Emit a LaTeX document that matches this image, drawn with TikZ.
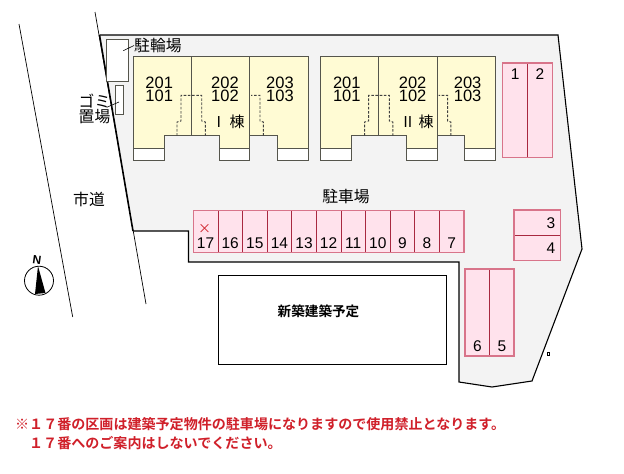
\documentclass[tikz,border=0pt]{standalone}
\usepackage{fontspec}
\setmainfont{Liberation Sans}
\newfontfamily\cjk{Noto Sans CJK JP}
\newfontfamily\cjkb{Noto Sans CJK JP Bold}
\definecolor{sitefill}{HTML}{F3F3F3}
\definecolor{yel}{HTML}{FFFBD4}
\definecolor{pk}{HTML}{FFE2EC}
\definecolor{pkout}{HTML}{D8748A}
\definecolor{pkin}{HTML}{A82840}
\definecolor{bline}{HTML}{55554C}
\definecolor{note}{HTML}{D0202A}
\tikzset{
  x=1pt,y=-1pt,
  lbl/.style={inner sep=0pt,text=black},
  jp/.style={lbl,font=\cjk\fontsize{15.8}{15}\selectfont},
  room/.style={lbl,font=\fontsize{16.5}{13.4}\selectfont,align=center},
  stallno/.style={lbl,font=\fontsize{15.5}{15}\selectfont},
  stall/.style={draw=pkin,fill=pk,line width=.7pt},
  stallbox/.style={draw=pkout,line width=1.2pt},
  bld/.style={draw=bline,line width=1pt},
  door/.style={draw=black!75,line width=.9pt,dash pattern=on 2.6pt off 1.6pt},
  bound/.style={draw=black,line width=1.1pt},
  thin road/.style={draw=black,line width=.7pt},
  notetext/.style={inner sep=0pt,anchor=west,text=note,font=\cjkb\fontsize{14.05}{14}\selectfont},
}
\newcommand{\building}[2]{%
 \begin{scope}[xshift=#1pt]
  \fill[yel] (133,56.7)--(308,56.7)--(308,148)--(277,148)--(277,135.7)--(249.5,135.7)--(249.5,148)--(219,148)--(219,135.7)--(164,135.7)--(164,148)--(133,148)--cycle;
  \fill[white] (133,148) rectangle (164,160.7) (219,148) rectangle (249.5,160.7) (277,148) rectangle (308,160.7);
  \draw[bld] (133,56.7)--(308,56.7)--(308,160.7)--(277,160.7)--(277,135.7)--(249.5,135.7)--(249.5,160.7)--(219,160.7)--(219,135.7)--(164,135.7)--(164,160.7)--(133,160.7)--cycle;
  \draw[bld,line width=.8pt] (133,148)--(164,148) (219,148)--(249.5,148) (277,148)--(308,148);
  \draw[bld] (191.3,56.7)--(191.3,135.7) (249.5,56.7)--(249.5,135.7);
  \draw[door] (177,135.7)--(177,122)--(181,121)--(181,95.3)--(201.7,95.3)--(201.7,121)--(205.3,122)--(205.3,135.7);
  \draw[door] (263.3,135.7)--(263.3,122)--(260,121)--(260,95.3)--(251,95.3);
  \node[room] (r#2a) at (159.2,89.5) {201\\101};
  \node[room] (r#2b) at (225,89.5) {202\\102};
  \node[room] (r#2c) at (280,89.5) {203\\103};
 \end{scope}}
\begin{document}
\begin{tikzpicture}
\useasboundingbox (0,0) rectangle (624,474);
\fill[white] (0,0) rectangle (624,474);
% roads
\coordinate (roadLa) at (19,24); \coordinate (roadLb) at (72.7,317);
\coordinate (roadRa) at (95,12); \coordinate (roadRb) at (146,304);
\draw[thin road] (roadLa)--(roadLb);
\draw[thin road] (roadRa)--(roadRb);
% site
\coordinate (s1) at (99.5,35); \coordinate (s2) at (558,35); \coordinate (s3) at (582,249);
\coordinate (s4) at (532,381); \coordinate (s5) at (492,387); \coordinate (s6) at (459,382);
\coordinate (s7) at (459,262); \coordinate (s8) at (188.5,262); \coordinate (s9) at (188.5,231); \coordinate (s10) at (133,231);
\fill[sitefill] (s1)--(s2)--(s3)--(s4)--(s5)--(s6)--(s7)--(s8)--(s9)--(s10)--cycle;
\draw[bound] (s1)--(s2)--(s3)--(s4)--(s5)--(s6)--(s7)--(s8)--(s9)--(s10);
\draw[draw=black,line width=1.6pt] (s10)--(s1);
% bike and garbage
\node[draw=bline,fill=white,line width=.8pt,minimum width=22pt,minimum height=41.7pt,inner sep=0pt] (bike) at (117.3,60.2) {};
\node[draw=bline,fill=white,line width=.8pt,minimum width=7.6pt,minimum height=28.7pt,inner sep=0pt] (gomi) at (119.5,99.7) {};
\node[jp,anchor=west] (bikelbl) at (134,45.5) {駐輪場};
\node[jp,align=center] (gomilbl) at (94.5,108.5) {ゴミ\\置場};
\coordinate (bikeend) at (123.3,50.7); \coordinate (gomiend) at (119,102); \coordinate (gomitail) at (106.7,107.3);
\draw[black,line width=.6pt] (bikeend)--(bikelbl.west);
\draw[black,line width=.6pt] (gomiend)--(gomitail);
% buildings
\building{0}{a}
\building{187.6}{b}
\node[jp,font=\cjk\fontsize{15}{15}\selectfont] (b1) at (228,122) {Ⅰ 棟};
\node[jp,font=\cjk\fontsize{15}{15}\selectfont] (b2) at (417,122) {Ⅱ 棟};
% stalls 1,2
\foreach \a/\n/\xa/\xb in {q1/1/502.7/527.5,q2/2/527.5/552.3}{
  \path[stall] (\xa,63) rectangle (\xb,157.7);
  \node[stallno] (\a) at ({(\xa+\xb)/2},74) {\n};
}
\draw[stallbox] (502.7,63) rectangle (552.3,157.7);
% stalls row
\foreach \n [count=\i from 0] in {17,16,15,14,13,12,11,10,9,8,7}{
  \pgfmathsetmacro\xa{193.3+24.6*\i}
  \pgfmathsetmacro\xb{193.3+24.6*(\i+1)}
  \path[stall] (\xa,210.7) rectangle (\xb,252.3);
  \node[stallno] (p\n) at ({(\xa+\xb)/2},243.3) {\n};
}
\draw[stallbox] (193.3,210.7) rectangle (464,252.3);
\node[inner sep=0pt,text=note,font=\cjk\fontsize{13}{13}\selectfont] (cross) at (204.5,229) {×};
% stalls 3,4
\path[stall] (514,210) rectangle (560.7,235.3);
\path[stall] (514,235.3) rectangle (560.7,260.5);
\draw[stallbox] (514,210) rectangle (560.7,260.5);
\node[stallno] (p3) at (551,223) {3};
\node[stallno] (p4) at (551,248) {4};
% stalls 5,6
\path[stall] (465,269) rectangle (489.7,356);
\path[stall] (489.7,269) rectangle (514,356);
\draw[stallbox] (465,269) rectangle (514,356);
\node[stallno] (p6) at (477.5,346.5) {6};
\node[stallno] (p5) at (502,346.5) {5};
% labels
\node[jp] (parking) at (346,196) {駐車場};
\node[jp] (city) at (89,199) {市道};
% new building
\node[draw=black,fill=white,line width=.8pt,minimum width=227.6pt,minimum height=88.7pt,inner sep=0pt] (newb) at (332.5,319.6) {};
\node[lbl,font=\cjkb\fontsize{13.6}{14}\selectfont] (newlbl) at (318.5,311.5) {新築建築予定};
% small square
\node[draw=black,fill=white,line width=.5pt,minimum width=2pt,minimum height=2.5pt,inner sep=0pt] (sq) at (548.3,353.7) {};
% compass
\node[circle,draw=black,fill=white,line width=.8pt,minimum size=29pt,inner sep=0pt] (comp) at (39,280.7) {};
\fill[black] (38,266)--(45.5,293)--(35,294)--cycle;
\node[lbl,rotate=-8,font=\fontsize{12}{12}\selectfont\bfseries] (north) at (37,260.5) {N};
% note
\node[notetext] (n1) at (15,424) {※１７番の区画は建築予定物件の駐車場になりますので使用禁止となります。};
\node[notetext] (n2) at (29,443) {１７番へのご案内はしないでください。};
\end{tikzpicture}
\end{document}
